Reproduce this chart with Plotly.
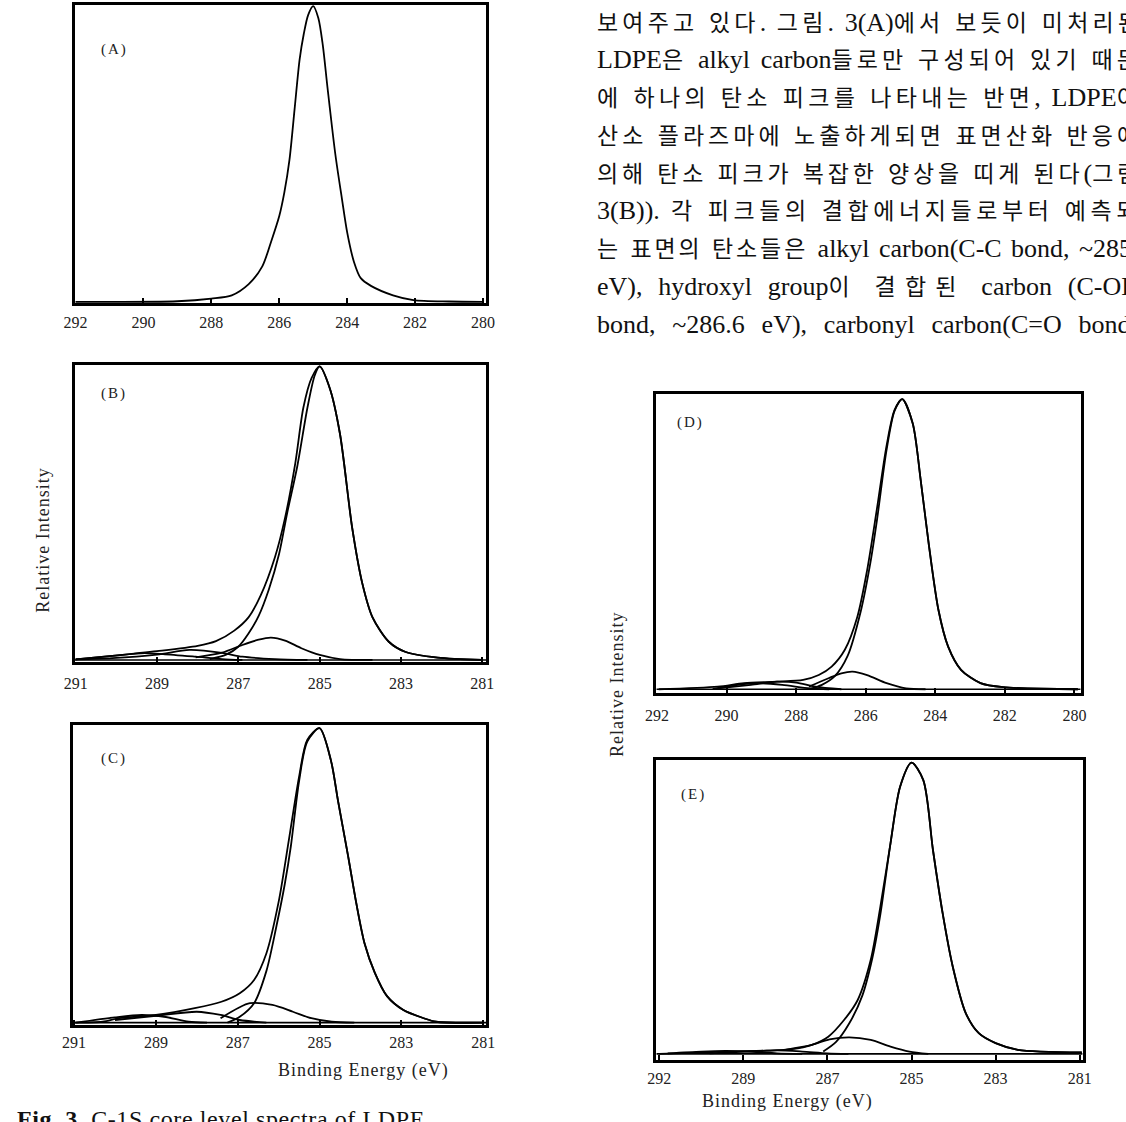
import re
import plotly.graph_objects as go

# ---------------- data (binding energy in eV, relative intensity in %) ----------------
A_be = [292.0, 289.0, 288.0, 287.4, 286.9, 286.5, 286.25, 286.0, 285.85, 285.7, 285.55, 285.4, 285.28, 285.15, 285.0,
        284.85, 284.72, 284.58, 284.35, 284.15, 284.0, 283.8, 283.6, 283.3, 282.65, 282.05, 281.0, 280.0]
A_int = [0.0, 0.2, 1.1, 2.2, 6.0, 12.0, 20.0, 29.0, 37.0, 48.0, 65.0, 82.0, 90.5, 97.0, 100.0,
         96.0, 87.0, 72.5, 50.0, 34.5, 23.5, 13.5, 8.0, 5.4, 2.2, 0.6, 0.1, 0.0]

B_env_be = [291.0, 290.1, 289.0, 288.0, 287.55, 287.1, 286.75, 286.45, 286.1, 285.85, 285.6, 285.4, 285.2, 285.0,
            284.75, 284.5, 284.2, 283.95, 283.7, 283.3, 282.9, 282.1, 281.0]
B_env_int = [0.2, 1.4, 3.0, 4.8, 6.4, 10.0, 14.5, 22.0, 35.0, 48.5, 67.0, 86.0, 96.0, 100.0,
             92.5, 77.0, 45.0, 26.0, 14.5, 6.2, 2.8, 0.8, 0.0]
B_cc_be = [287.7, 287.3, 287.0, 286.75, 286.5, 286.25, 286.0, 285.8, 285.55, 285.3, 285.12, 285.0,
           284.75, 284.5, 284.2, 283.95, 283.7, 283.3, 282.9, 282.1, 281.0]
B_cc_int = [0.3, 1.8, 4.5, 9.0, 15.0, 24.0, 36.0, 50.0, 66.0, 86.0, 97.0, 100.0,
            92.5, 77.0, 45.0, 26.0, 14.5, 6.2, 2.8, 0.8, 0.0]
B_oh_be = [288.05, 287.4, 286.9, 286.5, 286.2, 285.85, 285.45, 285.0, 284.5, 283.7]
B_oh_int = [0.9, 2.5, 5.1, 6.9, 7.6, 6.6, 4.0, 1.7, 0.3, 0.0]
B_co_be = [291.0, 290.1, 289.0, 288.2, 287.4, 286.9, 286.1, 285.3]
B_co_int = [0.2, 0.6, 1.8, 3.4, 2.4, 1.1, 0.3, 0.0]
B_coo_be = [291.0, 290.1, 289.3, 288.85, 288.05, 287.4, 286.9]
B_coo_int = [0.2, 1.4, 2.3, 2.0, 1.1, 0.3, 0.0]

C_env_be = [291.0, 290.3, 289.9, 289.0, 288.05, 287.4, 286.95, 286.6, 286.3, 286.0, 285.75, 285.5, 285.3, 285.0,
            284.72, 284.55, 284.3, 284.1, 283.9, 283.65, 283.35, 282.95, 282.45, 282.15, 281.0]
C_env_int = [0.0, 0.3, 1.5, 2.6, 4.9, 7.1, 10.0, 14.5, 23.5, 41.0, 62.0, 83.5, 96.0, 100.0,
             89.0, 75.5, 56.5, 40.5, 27.0, 17.0, 9.0, 4.3, 1.5, 0.3, 0.0]
C_cc_be = [287.25, 286.95, 286.6, 286.3, 286.05, 285.85, 285.7, 285.5, 285.3, 285.0,
           284.72, 284.55, 284.3, 284.1, 283.9, 283.65, 283.35, 282.95, 282.45, 282.15, 281.0]
C_cc_int = [0.0, 2.0, 6.6, 17.5, 33.0, 47.0, 60.0, 82.0, 95.5, 100.0,
            89.0, 75.5, 56.5, 40.5, 27.0, 17.0, 9.0, 4.3, 1.5, 0.3, 0.0]
C_oh_be = [287.42, 287.0, 286.7, 286.15, 285.65, 285.2, 284.7, 284.15]
C_oh_int = [1.5, 4.9, 6.6, 6.0, 3.7, 1.5, 0.3, 0.0]
C_co_be = [290.0, 289.0, 288.0, 287.42, 286.95, 286.3]
C_co_int = [0.9, 2.3, 3.7, 2.6, 0.9, 0.0]
C_coo_be = [290.95, 290.0, 289.35, 288.8, 288.2, 287.75]
C_coo_int = [0.0, 1.8, 2.6, 2.0, 0.3, 0.0]

D_env_be = [291.95, 290.25, 289.5, 288.55, 287.8, 287.35, 286.98, 286.6, 286.24, 285.96, 285.68, 285.4, 285.17, 284.95,
            284.65, 284.42, 284.19, 283.91, 283.63, 283.26, 282.7, 282.05, 279.9]
D_env_int = [0.0, 0.9, 2.1, 2.6, 3.2, 4.9, 7.8, 13.6, 25.0, 41.0, 62.0, 84.0, 96.3, 100.0,
             91.7, 72.2, 50.3, 27.4, 14.7, 6.7, 2.1, 0.7, 0.0]
D_cc_be = [287.63, 287.26, 286.89, 286.52, 286.14, 285.86, 285.68, 285.4, 285.17, 284.95,
           284.65, 284.42, 284.19, 283.91, 283.63, 283.26, 282.7, 282.05, 279.9]
D_cc_int = [0.0, 1.5, 4.5, 11.5, 27.0, 44.0, 58.0, 82.5, 96.0, 100.0,
            91.7, 72.2, 50.3, 27.4, 14.7, 6.7, 2.1, 0.7, 0.0]
D_oh_be = [287.63, 287.07, 286.7, 286.38, 285.96, 285.4, 284.84, 284.28]
D_oh_int = [0.9, 3.8, 5.5, 6.1, 4.9, 2.1, 0.3, 0.0]
D_co_be = [290.25, 289.3, 288.55, 288.0, 287.45, 286.7]
D_co_int = [0.3, 1.5, 2.6, 2.3, 0.9, 0.0]
D_coo_be = [290.4, 289.5, 289.1, 288.4, 287.6, 287.05]
D_coo_int = [0.1, 1.8, 2.1, 1.5, 0.3, 0.0]

E_env_be = [291.0, 289.4, 288.45, 287.85, 287.37, 286.98, 286.6, 286.28, 285.97, 285.74, 285.5, 285.27, 285.0,
            284.72, 284.49, 284.26, 284.02, 283.71, 283.4, 283.0, 282.47, 280.95]
E_env_int = [0.0, 0.8, 1.1, 1.6, 3.1, 5.9, 11.7, 18.5, 32.3, 50.6, 72.3, 91.8, 100.0,
             94.0, 70.0, 48.3, 30.0, 14.0, 7.1, 3.7, 1.4, 0.5]
E_cc_be = [287.1, 286.8, 286.48, 286.17, 285.93, 285.74, 285.5, 285.27, 285.0,
           284.72, 284.49, 284.26, 284.02, 283.71, 283.4, 283.0, 282.47, 280.95]
E_cc_int = [0.8, 4.0, 10.5, 20.0, 33.0, 48.0, 72.3, 91.8, 100.0,
            94.0, 70.0, 48.3, 30.0, 14.0, 7.1, 3.7, 1.4, 0.5]
E_oh_be = [288.0, 287.37, 286.95, 286.48, 285.97, 285.5, 285.05, 284.6]
E_oh_int = [1.4, 3.1, 5.0, 5.7, 4.8, 2.5, 0.8, 0.0]
E_co_be = [289.8, 288.8, 288.2, 287.6, 287.0, 286.5]
E_co_int = [0.2, 0.9, 1.2, 0.8, 0.2, 0.0]
E_coo_be = [290.8, 290.0, 289.4, 288.8, 288.2, 287.6]
E_coo_int = [0.2, 0.8, 1.0, 0.7, 0.2, 0.0]

# tick labels
A_ticks = [292, 290, 288, 286, 284, 282, 280]
B_ticks = [291, 289, 287, 285, 283, 281]
C_ticks = [291, 289, 287, 285, 283, 281]
D_ticks = [292, 290, 288, 286, 284, 282, 280]
E_ticks = [291, 289, 287, 285, 283, 281]
E_ticktext = ["292", "289", "287", "285", "283", "281"]

panel_names = ["(A)", "(B)", "(C)", "(D)", "(E)"]

body_lines = [
    "보여주고 있다. 그림. 3(A)에서 보듯이 미처리된",
    "LDPE은 alkyl carbon들로만 구성되어 있기 때문",
    "에 하나의 탄소 피크를 나타내는 반면, LDPE이",
    "산소 플라즈마에 노출하게되면 표면산화 반응에",
    "의해 탄소 피크가 복잡한 양상을 띠게 된다(그림",
    "3(B)). 각 피크들의 결합에너지들로부터 예측되",
    "는 표면의 탄소들은 alkyl carbon(C-C bond, ~285",
    "eV), hydroxyl group이 결합된 carbon (C-OH",
    "bond, ~286.6 eV), carbonyl carbon(C=O bond,",
]
y_title = "Relative Intensity"
x_title = "Binding Energy (eV)"
caption_bold = "Fig. 3."
caption_rest = "C-1S core level spectra of LDPE."

# ---------------- layout geometry (pixels) ----------------
W, H = 1126, 1122
SERIF = "Liberation Serif, 'Noto Sans CJK KR', serif"

panels = [
    dict(box=(65, 484, 5, 303), xr=[292.02, 279.9], yr=[-0.4, 100.4], ticks=A_ticks, tt=None, so=3,
         curves=[(A_be, A_int)], lab=(105, 50)),
    dict(box=(65, 484, 365, 662), xr=[291.02, 280.9], yr=[-0.7, 100.5], ticks=B_ticks, tt=None, so=5,
         curves=[(B_coo_be, B_coo_int), (B_co_be, B_co_int), (B_oh_be, B_oh_int),
                 (B_cc_be, B_cc_int), (B_env_be, B_env_int)], lab=(105, 393)),
    dict(box=(63, 484, 725, 1025), xr=[291.03, 280.92], yr=[-0.8, 101.1], ticks=C_ticks, tt=None, so=1,
         curves=[(C_coo_be, C_coo_int), (C_co_be, C_co_int), (C_oh_be, C_oh_int),
                 (C_cc_be, C_cc_int), (C_env_be, C_env_int)], lab=(105, 758)),
    dict(box=(657, 1089, 394, 693), xr=[292.02, 279.82], yr=[-1.3, 101.8], ticks=D_ticks, tt=None, so=6,
         curves=[(D_coo_be, D_coo_int), (D_co_be, D_co_int), (D_oh_be, D_oh_int),
                 (D_cc_be, D_cc_int), (D_env_be, D_env_int)], lab=(692, 423)),
    dict(box=(657, 1091, 760, 1060), xr=[291.07, 280.93], yr=[-2.1, 100.9], ticks=E_ticks, tt=E_ticktext, so=2,
         curves=[(E_coo_be, E_coo_int), (E_co_be, E_co_int), (E_oh_be, E_oh_int),
                 (E_cc_be, E_cc_int), (E_env_be, E_env_int)], lab=(695, 795)),
]

fig = go.Figure()
layout = dict(width=W, height=H, autosize=False, margin=dict(l=0, r=0, t=0, b=0),
              paper_bgcolor="white", plot_bgcolor="rgba(0,0,0,0)", showlegend=False)
annotations = []

for i, p in enumerate(panels):
    n = "" if i == 0 else str(i + 1)
    x0, x1, y0, y1 = p["box"]
    xa = dict(domain=[x0 / W, x1 / W], range=p["xr"], anchor="y" + n,
              tickmode="array", tickvals=p["ticks"],
              ticktext=p["tt"] if p["tt"] else [str(t) for t in p["ticks"]],
              ticks="inside", ticklen=5, tickwidth=1.5, tickcolor="black",
              showline=True, linewidth=3, linecolor="black", mirror=True,
              showgrid=False, zeroline=False, ticklabelstandoff=p["so"],
              tickfont=dict(family=SERIF, size=16, color="#222"))
    ya = dict(domain=[1 - y1 / H, 1 - y0 / H], range=p["yr"], anchor="x" + n,
              showline=True, linewidth=3, linecolor="black", mirror=True,
              showgrid=False, zeroline=False, showticklabels=False, ticks="")
    layout["xaxis" + n] = xa
    layout["yaxis" + n] = ya
    if i > 0:
        fig.add_trace(go.Scatter(x=[p["xr"][0], p["xr"][1]], y=[0, 0], mode="lines",
                                 line=dict(color="black", width=1.6),
                                 xaxis="x" + n, yaxis="y" + n, hoverinfo="skip"))
    for (bx, by) in p["curves"]:
        fig.add_trace(go.Scatter(x=bx, y=by, mode="lines",
                                 line=dict(color="black", width=1.8, shape="spline", smoothing=0.8),
                                 xaxis="x" + n, yaxis="y" + n, hoverinfo="skip"))
    lx, ly = p["lab"]
    annotations.append(dict(text='<span style="letter-spacing:2px">' + panel_names[i] + "</span>",
                            x=lx / W, y=1 - ly / H, xref="paper", yref="paper",
                            showarrow=False, xanchor="center", yanchor="middle",
                            font=dict(family=SERIF, size=15, color="#222")))

annotations.append(dict(text='<span style="letter-spacing:1px">' + y_title + "</span>",
                        x=20 / W, y=1 - 540 / H, textangle=-90,
                        xref="paper", yref="paper", showarrow=False,
                        font=dict(family=SERIF, size=18, color="#222")))
annotations.append(dict(text='<span style="letter-spacing:1px">' + y_title + "</span>",
                        x=617 / W, y=1 - 685 / H, textangle=-90,
                        xref="paper", yref="paper", showarrow=False,
                        font=dict(family=SERIF, size=18, color="#222")))
annotations.append(dict(text='<span style="letter-spacing:1px">' + x_title + "</span>",
                        x=270 / W, y=1 - 1083 / H, xref="paper", yref="paper", showarrow=False,
                        font=dict(family=SERIF, size=18, color="#222")))
annotations.append(dict(text='<span style="letter-spacing:1px">' + x_title + "</span>",
                        x=880 / W, y=1 - 1114 / H, xref="paper", yref="paper", showarrow=False,
                        font=dict(family=SERIF, size=18, color="#222")))
annotations.append(dict(text='<span style="letter-spacing:0.6px"><b>' + caption_bold + "</b> " + caption_rest + "</span>",
                        x=4 / W, y=1 - 1104 / H, xref="paper", yref="paper", showarrow=False,
                        xanchor="left", yanchor="top",
                        font=dict(family=SERIF, size=24, color="#111")))

# ---- body text: justified column (Hangul letter-spaced, Latin in a larger serif) ----
HANGUL_PX, LATIN_PX, HANGUL_ADV = 23, 26, 0.92
LINE_WIDTHS = [546, 545, 545, 545, 545, 545, 535, 543, 540]
TW = {' ': .25, '.': .25, ',': .25, '(': .333, ')': .333, '-': .333, '~': .541, '=': .564,
      'A': .722, 'B': .667, 'C': .667, 'D': .722, 'E': .611, 'H': .722, 'L': .611, 'O': .722,
      'P': .556, 'V': .722, 'a': .444, 'b': .5, 'c': .444, 'd': .5, 'e': .444, 'g': .5, 'h': .5,
      'k': .5, 'l': .278, 'n': .5, 'o': .5, 'p': .5, 'r': .333, 'u': .5, 'x': .5, 'y': .5}
HANGUL_RE = re.compile(r'[\uac00-\ud7a3]+|[^\uac00-\ud7a3]+')


def is_hangul(c):
    return '\uac00' <= c <= '\ud7a3'


def justified(line, target):
    runs = HANGUL_RE.findall(line)
    n_h = sum(1 for c in line if is_hangul(c))
    n_sp = line.count(' ')
    fixed = n_h * HANGUL_PX * HANGUL_ADV + sum(TW.get(c, .5) * LATIN_PX for c in line if not is_hangul(c))
    ls = max(-1.0, (target - fixed) / max(1, n_h + n_sp))
    out = []
    for r in runs:
        if is_hangul(r[0]):
            out.append('<span style="letter-spacing:%.2fpx">%s</span>' % (ls, r))
        else:
            out.append('<span style="font-size:%dpx;word-spacing:%.2fpx">%s</span>' % (LATIN_PX, ls, r))
    return "".join(out)


for k, line in enumerate(body_lines):
    yy = 22 + 37.8 * k
    annotations.append(dict(text=justified(line, LINE_WIDTHS[k]),
                            x=595 / W, y=1 - yy / H, xref="paper", yref="paper", showarrow=False,
                            xanchor="left", yanchor="middle",
                            font=dict(family=SERIF, size=HANGUL_PX, color="#111")))

layout["annotations"] = annotations
fig.update_layout(**layout)

fig.write_html("out.html", config={"displayModeBar": False},
               post_script="document.body.style.margin='0';")
